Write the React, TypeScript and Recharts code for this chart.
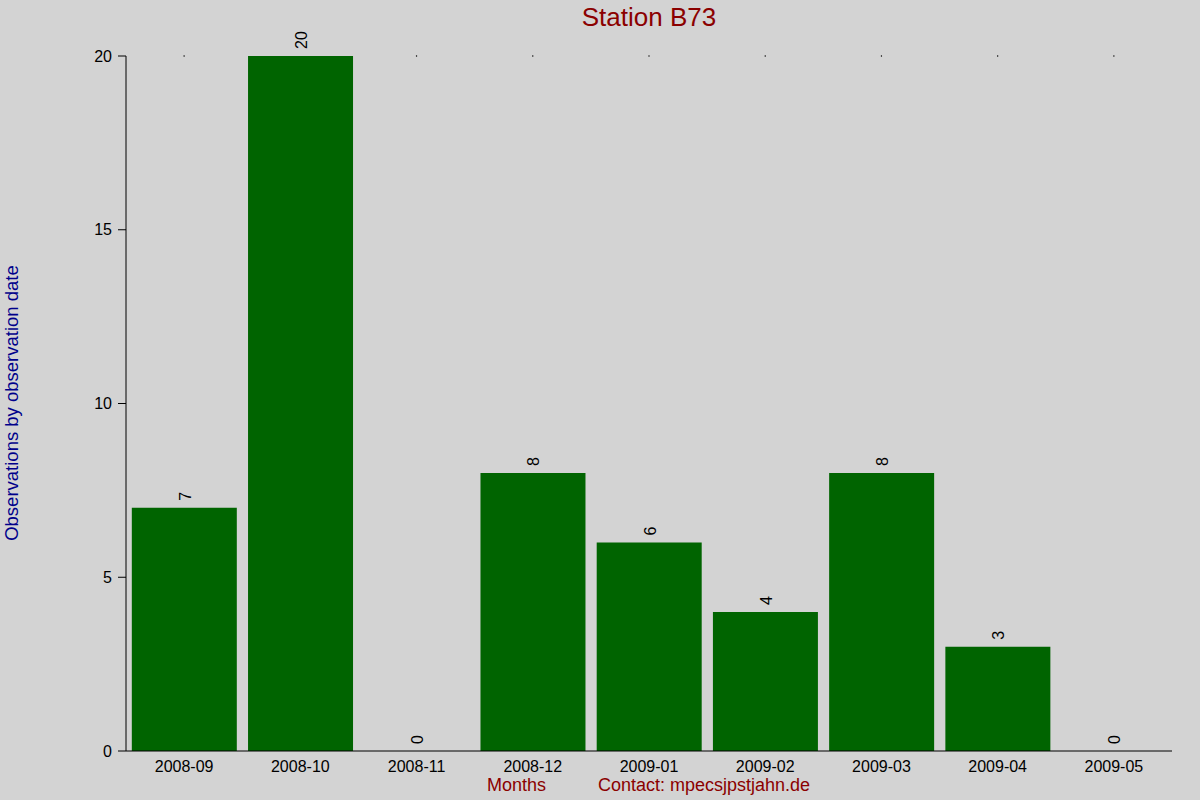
import React from 'react';
import { ComposedChart, Bar, Line, XAxis, YAxis, LabelList, ReferenceDot } from 'recharts';

const months = ['2008-09', '2008-10', '2008-11', '2008-12', '2009-01', '2009-02', '2009-03', '2009-04', '2009-05'];
const observations = [7, 20, 0, 8, 6, 4, 8, 3, 0];
const yTicks = [0, 5, 10, 15, 20];
const yMax = 20;

const data = months.map((month, i) => ({ month, count: observations[i] }));

const FONT = '"Liberation Sans", Arial, sans-serif';

const BarValue = (props: any) => {
  const { x, y, value } = props;
  const cx = Number(x) + 1;
  const cy = Number(y) - 7;
  return (
    <text
      x={cx}
      y={cy}
      transform={`rotate(-90 ${cx} ${cy})`}
      textAnchor="start"
      dominantBaseline="central"
      fontSize={16}
      fontFamily={FONT}
      fill="#000"
    >
      {value}
    </text>
  );
};

export default function App() {
  return (
    <div style={{ position: 'absolute', left: 0, top: 0, width: 1200, height: 800, background: '#D3D3D3', fontFamily: FONT }}>
      <div style={{ position: 'absolute', top: 2, left: 0, width: 1298, textAlign: 'center', fontSize: 26, color: '#8B0000' }}>
        Station B73
      </div>
      <div
        style={{
          position: 'absolute',
          left: 12,
          top: 403,
          transform: 'translate(-50%, -50%) rotate(-90deg)',
          whiteSpace: 'nowrap',
          fontSize: 18.5,
          color: '#00008B',
        }}
      >
        Observations by observation date
      </div>
      <div style={{ position: 'absolute', left: 487, top: 775, fontSize: 18, color: '#8B0000' }}>Months</div>
      <div style={{ position: 'absolute', left: 598, top: 775, fontSize: 18, color: '#8B0000' }}>Contact: mpecsjpstjahn.de</div>

      <ComposedChart
        width={1200}
        height={800}
        data={data}
        margin={{ top: 56, right: 28, left: 66, bottom: 19 }}
        barCategoryGap="5%"
        style={{ position: 'absolute', left: 0, top: 0 }}
      >
        <XAxis
          dataKey="month"
          tickLine={false}
          axisLine={{ stroke: '#000' }}
          tick={{ fill: '#000', fontSize: 16, fontFamily: FONT }}
          tickMargin={4}
          height={30}
          interval={0}
        />
        <YAxis
          domain={[0, yMax]}
          ticks={yTicks}
          width={60}
          tickSize={8}
          tickMargin={6}
          axisLine={{ stroke: '#000' }}
          tickLine={{ stroke: '#000' }}
          tick={{ fill: '#000', fontSize: 16, fontFamily: FONT }}
        />
        <Bar dataKey="count" fill="#006400" isAnimationActive={false} />
        <Line dataKey="count" stroke="none" dot={false} activeDot={false} isAnimationActive={false}>
          <LabelList dataKey="count" content={BarValue} />
        </Line>
        {data
          .filter((d) => d.count < yMax)
          .map((d) => (
            <ReferenceDot key={d.month} x={d.month} y={yMax} r={0.7} fill="#000" stroke="none" />
          ))}
      </ComposedChart>
    </div>
  );
}
